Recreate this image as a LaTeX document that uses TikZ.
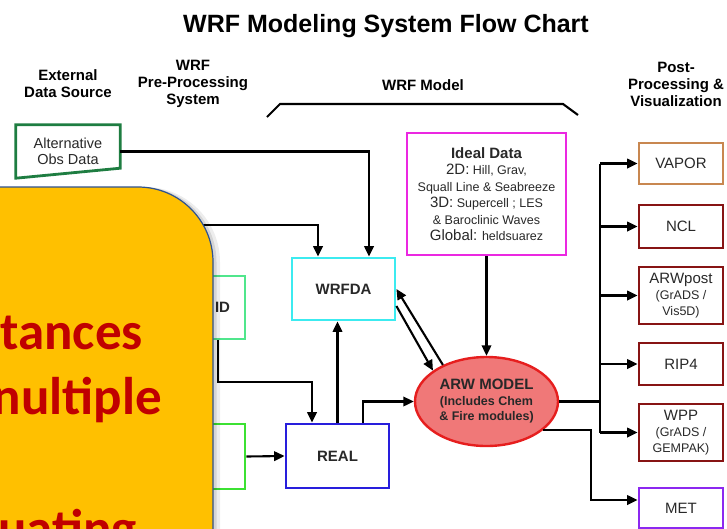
\documentclass[tikz,border=0pt]{standalone}
\usepackage{fontspec}
\setmainfont{Liberation Sans}
\newfontfamily\callfont{Carlito}
\usetikzlibrary{arrows.meta,shapes.geometric}
\definecolor{altgreen}{RGB}{30,125,65}
\definecolor{obsgreen}{RGB}{80,230,140}
\definecolor{wpsgreen}{RGB}{60,225,50}
\definecolor{dacyan}{RGB}{60,235,240}
\definecolor{realblue}{RGB}{40,30,220}
\definecolor{idealpink}{RGB}{235,40,225}
\definecolor{arwfill}{RGB}{240,120,120}
\definecolor{arwred}{RGB}{230,30,30}
\definecolor{vaportan}{RGB}{200,135,80}
\definecolor{postred}{RGB}{135,20,20}
\definecolor{metpurple}{RGB}{140,40,240}
\definecolor{calloutfill}{RGB}{255,192,0}
\definecolor{calloutedge}{RGB}{47,82,143}
\definecolor{callouttext}{RGB}{192,0,0}
\definecolor{labelgray}{RGB}{40,40,40}
\newcommand{\bigpart}[1]{{\fontsize{15}{16}\selectfont #1}}
\newcommand{\smallpart}[1]{{\fontsize{12.5}{16}\selectfont #1}}

\begin{document}
\begin{tikzpicture}[x=1pt,y=-1pt,
    arr/.style={line width=2.1pt,-{Triangle[length=10.5pt,width=9.5pt]}},
    head/.style={font=\fontsize{15}{17}\selectfont\bfseries,align=center},
    frame/.style={draw,line width=2.8pt,rectangle,text=labelgray,font=\fontsize{15}{16}\selectfont},
    postbox/.style={frame,minimum width=84pt,inner sep=2pt,align=center},
    calltext/.style={font=\callfont\bfseries\fontsize{53}{60}\selectfont,text=callouttext,anchor=base east,inner sep=0pt}]
        \useasboundingbox (0,0) rectangle (727,528);
        \clip (0,0) rectangle (727,528);
        %% Title and column heads
        \node[font=\fontsize{25}{28}\selectfont\bfseries,anchor=base] (TITLE) at (386,32) {WRF Modeling System Flow Chart};
        \node[head] (EXT) at (68,84) {External\\Data Source};
        \node[head] (PRE) at (193,84) {WRF\\Pre-Processing\\System};
        \node[head] (MOD) at (423,85) {WRF Model};
        \node[head] (POST) at (676,84) {Post-\\Processing \&\\Visualization};
        \draw[line width=2.1pt] (267,117) -- (280,104) -- (563,104) -- (578,115);
        %% Alternative obs data
        \node[minimum width=104pt,minimum height=53pt,text=labelgray,font=\fontsize{14.5}{16}\selectfont,align=center] (ALT) at (68,151.5) {Alternative\\Obs Data};
        \draw[altgreen,line width=2.8pt] (ALT.north west) -- (ALT.north east) -- ([yshift=10pt]ALT.south east) -- (ALT.south west) -- cycle;
        %% Boxes
        \node[frame,draw=obsgreen,minimum width=45pt,minimum height=63pt,font=\fontsize{15}{16}\selectfont\bfseries] (OBS) at (222.5,307.5) {ID};
        \node[frame,draw=wpsgreen,minimum width=45pt,minimum height=65pt] (WPS) at (222.5,456.5) {};
        \node[frame,draw=dacyan,minimum width=103pt,minimum height=62pt,font=\fontsize{15}{16}\selectfont\bfseries] (WRFDA) at (343.5,289) {WRFDA};
        \node[frame,draw=realblue,minimum width=103pt,minimum height=64pt,font=\fontsize{15}{16}\selectfont\bfseries] (REAL) at (337.5,456) {REAL};
        \node[frame,draw=idealpink,minimum width=159pt,minimum height=122pt,align=center,font=\fontsize{12.5}{16.5}\selectfont] (IDEAL) at (486.5,194) {\bigpart{\bfseries Ideal Data}\\\bigpart{2D:} Hill, Grav,\\Squall Line \& Seabreeze\\\bigpart{3D:} Supercell ; LES\\\& Baroclinic Waves\\\bigpart{Global:} heldsuarez};
        \node[ellipse,draw=arwred,fill=arwfill,line width=2.4pt,minimum width=143pt,minimum height=89pt,inner sep=0pt,align=center,text=labelgray,font=\fontsize{12.5}{15.5}\selectfont\bfseries] (ARW) at (486.5,401.5) {\bigpart{ARW MODEL}\\(Includes Chem\\\& Fire modules)};
        %% Post-processing
        \node[postbox,draw=vaportan,minimum height=41pt] (VAPOR) at (681,163.5) {VAPOR};
        \node[postbox,draw=postred,minimum height=43pt] (NCL) at (681,226.5) {NCL};
        \node[postbox,draw=postred,minimum height=57pt] (ARWP) at (681,295.5) {ARWpost\\\smallpart{(GrADS /}\\\smallpart{Vis5D)}};
        \node[postbox,draw=postred,minimum height=42pt] (RIP) at (681,364) {RIP4};
        \node[postbox,draw=postred,minimum height=57pt] (WPP) at (681,432.5) {WPP\\\smallpart{(GrADS /}\\\smallpart{GEMPAK)}};
        \node[postbox,draw=metpurple,minimum height=40pt] (MET) at (681,508) {MET};
        %% Connectors
        \coordinate (HID) at (150,225);
        \draw[arr] (HID) -| ([xshift=-25.5pt]WRFDA.north);
        \draw[arr] (ALT.east) -| ([xshift=25.5pt]WRFDA.north);
        \draw[arr] ([xshift=-4.5pt]OBS.south) -- ++(0,42) -| ([xshift=-25.5pt]REAL.north);
        \draw[arr] (WPS.east) -- (REAL.west);
        \draw[arr] (REAL.north) -- (REAL.north |- WRFDA.south);
        \draw[arr] ([xshift=25.5pt]REAL.north) |- (ARW.west);
        \draw[arr] (ARW.140) -- (WRFDA.east);
        \draw[arr] ([yshift=-17pt]WRFDA.east) -- (ARW.150);
        \draw[arr] (IDEAL.south) -- (ARW.north);
        \draw[line width=2.1pt] (ARW.east) -- ++(41,0) coordinate (TR);
        \draw[line width=2.1pt] (TR |- VAPOR.west) -- (TR |- WPP.west);
        \draw[arr] (TR |- VAPOR.west) -- (VAPOR.west);
        \draw[arr] (TR |- NCL.west) -- (NCL.west);
        \draw[arr] (TR |- ARWP.west) -- (ARWP.west);
        \draw[arr] (TR |- RIP.west) -- (RIP.west);
        \draw[arr] (TR |- WPP.west) -- (WPP.west);
        \draw[arr] (ARW.-27) -- ++(48,0) |- ([yshift=8pt]MET.west);
        %% Callout over the left part
        \begin{scope}[xshift=7pt]
            \fill[black,opacity=0.07] (-10,187) -- (138,187) .. controls (179.4,187) and (213,220.6) .. (213,262) -- (213,540) -- (-10,540) -- cycle;
        \end{scope}
        \begin{scope}[xshift=3.5pt]
            \fill[black,opacity=0.10] (-10,187) -- (138,187) .. controls (179.4,187) and (213,220.6) .. (213,262) -- (213,540) -- (-10,540) -- cycle;
        \end{scope}
        \draw[fill=calloutfill,draw=calloutedge,line width=1.2pt] (-10,187) -- (138,187) .. controls (179.4,187) and (213,220.6) .. (213,262) -- (213,540) -- (-10,540) -- cycle;
        \node[calltext] (T1) at (143,349) {tances};
        \node[calltext] (T2) at (162,414) {nultiple};
        \node[calltext] (T3) at (137,546) {uating};
    \end{tikzpicture}
\end{document}
